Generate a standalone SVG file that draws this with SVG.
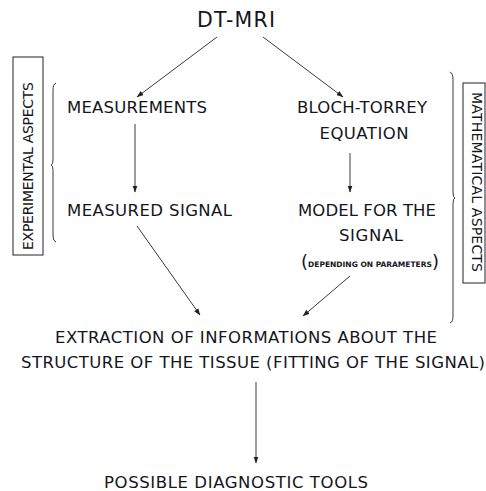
<svg xmlns="http://www.w3.org/2000/svg" width="486" height="491" viewBox="0 0 486 491">
<style>
.t{font-family:"DejaVu Sans","Verdana",sans-serif;fill:#151520;text-anchor:middle}
.m{font-size:16.5px}
.s{font-size:7.5px;font-weight:bold}
.c{stroke:#3a3a3a;stroke-width:1;fill:none}
.b{stroke:#222;stroke-width:1;fill:none}
</style>
<defs>
<marker id="ah" markerWidth="7" markerHeight="6" refX="6.5" refY="3" orient="auto" markerUnits="userSpaceOnUse">
<path d="M0,0.5 L7,3 L0,5.5 Z" fill="#222"/>
</marker>
</defs>
<rect width="486" height="491" fill="#fff"/>
<g id="dtmri"><text class="t" x="236" y="27" font-size="20.5" textLength="78">DT-MRI</text></g>
<g id="measurements"><text class="t m" x="137" y="113" textLength="140">MEASUREMENTS</text></g>
<g id="bloch"><text class="t m" x="362" y="113" textLength="130">BLOCH-TORREY</text><text class="t m" x="364" y="139" textLength="89">EQUATION</text></g>
<g id="measured"><text class="t m" x="149.5" y="216" textLength="165">MEASURED SIGNAL</text></g>
<g id="model"><text class="t m" x="367" y="216" textLength="138">MODEL FOR THE</text><text class="t m" x="371" y="241" textLength="64">SIGNAL</text>
<text class="t" x="370" y="268"><tspan font-size="18" font-weight="normal">(</tspan><tspan class="s" dy="-1.5">DEPENDING ON PARAMETERS</tspan><tspan font-size="18" dy="1.5">)</tspan></text></g>
<g id="extraction"><text class="t m" x="246" y="343" textLength="382">EXTRACTION OF INFORMATIONS ABOUT THE</text><text class="t m" x="253" y="368" textLength="464">STRUCTURE OF THE TISSUE (FITTING OF THE SIGNAL)</text></g>
<g id="diagnostic"><text class="t m" x="236" y="488" textLength="264">POSSIBLE DIAGNOSTIC TOOLS</text></g>
<g id="experimental">
<rect class="b" x="13" y="57" width="30" height="198"/>
<text class="t" font-size="14" transform="translate(33,166) rotate(-90)" textLength="168">EXPERIMENTAL ASPECTS</text>
<path class="c" d="M56,83 Q53,84 53,90 L53,160 Q53,165 51,165 Q53,165 53,170 L53,236 Q53,241 56,242"/>
</g>
<g id="mathematical">
<rect class="b" x="463" y="83" width="22" height="200"/>
<text class="t" font-size="14" transform="translate(472,182) rotate(90)" textLength="180">MATHEMATICAL ASPECTS</text>
<path class="c" d="M450,72 Q453,73 453,80 L453,192 Q453,198 455,198 Q453,198 453,204 L453,316 Q453,322 450,323"/>
</g>
<g id="connectors">
<line class="c" x1="217" y1="37" x2="137" y2="97" marker-end="url(#ah)"/>
<line class="c" x1="263" y1="37" x2="343" y2="97" marker-end="url(#ah)"/>
<line class="c" x1="135" y1="124" x2="135" y2="192" marker-end="url(#ah)"/>
<line class="c" x1="350" y1="153" x2="350" y2="192" marker-end="url(#ah)"/>
<line class="c" x1="137" y1="226" x2="200" y2="315" marker-end="url(#ah)"/>
<line class="c" x1="350" y1="276" x2="303" y2="316" marker-end="url(#ah)"/>
<line class="c" x1="256" y1="382" x2="256" y2="463" marker-end="url(#ah)"/>
</g>
</svg>
